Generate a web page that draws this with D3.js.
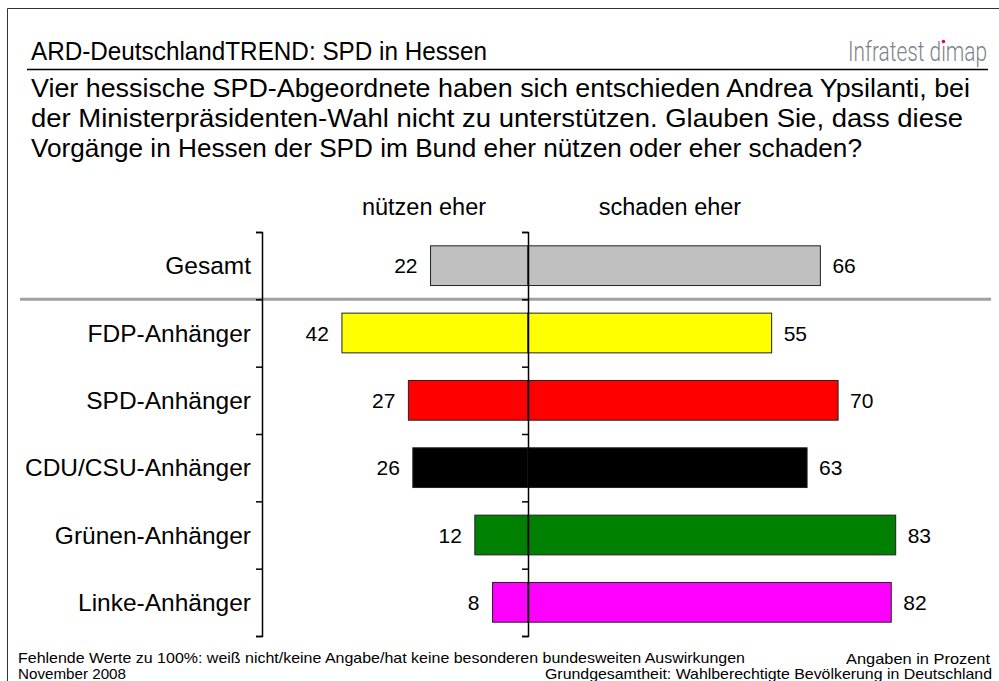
<!DOCTYPE html>
<html lang="de">
<head>
    <meta charset="UTF-8">
    <title>ARD-DeutschlandTREND: SPD in Hessen</title>
    <script src="https://d3js.org/d3.v7.min.js"></script>
    <style>
        body { margin: 0; background: #fff; }
        svg text { font-family: "Liberation Sans", Arial, sans-serif; fill: #000; }
    </style>
</head>
<body>
    <div id="chart"></div>

    <script>
        // Data
        const categories = ["Gesamt", "FDP-Anhänger", "SPD-Anhänger", "CDU/CSU-Anhänger", "Grünen-Anhänger", "Linke-Anhänger"];
        const nutzenEher = [22, 42, 27, 26, 12, 8];
        const schadenEher = [66, 55, 70, 63, 83, 82];
        const seriesNames = ["nützen eher", "schaden eher"];
        const questionLines = [
            "Vier hessische SPD-Abgeordnete haben sich entschieden Andrea Ypsilanti, bei",
            "der Ministerpräsidenten-Wahl nicht zu unterstützen. Glauben Sie, dass diese",
            "Vorgänge in Hessen der SPD im Bund eher nützen oder eher schaden?"
        ];
        const barColors = ["#c0c0c0", "#ffff00", "#ff0000", "#000000", "#008000", "#ff00ff"];

        const width = 999, height = 681;
        const svg = d3.select("#chart").append("svg").attr("width", width).attr("height", height);

        // frame
        svg.append("path")
            .attr("d", "M7.5,681V8.5H999")
            .attr("fill", "none")
            .attr("stroke", "#333")
            .attr("stroke-width", 1);

        // title
        svg.append("text")
            .attr("x", 31).attr("y", 60)
            .attr("font-size", 26)
            .attr("textLength", 456).attr("lengthAdjust", "spacingAndGlyphs")
            .text("ARD-DeutschlandTREND: SPD in Hessen");

        // logo: condensed look by stretching a smaller font vertically;
        // the dot over the second i is magenta, so use a dotless i and draw the dot
        const logoG = svg.append("g").attr("transform", "translate(848,61) scale(1,1.3)");
        const logo = logoG.append("text")
            .attr("x", 0).attr("y", 0)
            .attr("font-size", 20.7)
            .attr("textLength", 139).attr("lengthAdjust", "spacingAndGlyphs")
            .style("font-family", "Roboto, 'Liberation Sans Narrow', sans-serif")
            .style("font-weight", 300)
            .style("fill", "#7d8288")
            .text("Infratest d\u0131map");
        let dotX = 936;
        try {
            const ext = logo.node().getExtentOfChar(11);
            dotX = 848 + ext.x + ext.width / 2;
        } catch (e) {}
        svg.append("circle")
            .attr("cx", dotX).attr("cy", 41.5).attr("r", 1.8)
            .attr("fill", "#e2007a");

        svg.append("line")
            .attr("x1", 27).attr("x2", 988)
            .attr("y1", 69.5).attr("y2", 69.5)
            .attr("stroke", "#000").attr("stroke-width", 1.5);

        // question (widths as in the original layout)
        const questionWidths = [939, 932, 831];
        svg.append("g").selectAll("text")
            .data(questionLines)
            .join("text")
            .attr("x", 31)
            .attr("y", (d, i) => 97 + i * 30)
            .attr("font-size", 25)
            .attr("textLength", (d, i) => questionWidths[i])
            .attr("lengthAdjust", "spacingAndGlyphs")
            .text(d => d);

        // scales
        const x = d3.scaleLinear().domain([-50, 100]).range([528 - 221.5, 528 + 443]);
        const y = d3.scaleBand().domain(categories).range([232, 636]).paddingInner(0.41).paddingOuter(0.205);
        const yEdges = d3.scaleLinear().domain([0, categories.length]).range([232, 636]);
        const color = d3.scaleOrdinal().domain(categories).range(barColors);

        // column headers
        svg.append("g").selectAll("text")
            .data(seriesNames)
            .join("text")
            .attr("x", (d, i) => i === 0 ? 424 : 670)
            .attr("y", 215)
            .attr("text-anchor", "middle")
            .attr("font-size", 23.5)
            .text(d => d);

        // separator between Gesamt and groups
        svg.append("line")
            .attr("x1", 20).attr("x2", 991)
            .attr("y1", yEdges(1)).attr("y2", yEdges(1))
            .attr("stroke", "#a0a0a0").attr("stroke-width", 3);

        // bars
        const rows = categories.map((c, i) => ({ cat: c, n: nutzenEher[i], s: schadenEher[i] }));

        const bars = svg.append("g");
        bars.selectAll("rect.n")
            .data(rows)
            .join("rect")
            .attr("class", "n")
            .attr("x", d => x(-d.n))
            .attr("y", d => y(d.cat))
            .attr("width", d => x(0) - x(-d.n))
            .attr("height", y.bandwidth())
            .attr("fill", d => color(d.cat))
            .attr("stroke", "#222").attr("stroke-width", 1);

        bars.selectAll("rect.s")
            .data(rows)
            .join("rect")
            .attr("class", "s")
            .attr("x", x(0))
            .attr("y", d => y(d.cat))
            .attr("width", d => x(d.s) - x(0))
            .attr("height", y.bandwidth())
            .attr("fill", d => color(d.cat))
            .attr("stroke", "#222").attr("stroke-width", 1);

        // value labels
        const labels = svg.append("g").attr("font-size", 21);
        labels.selectAll("text.n")
            .data(rows)
            .join("text")
            .attr("class", "n")
            .attr("x", d => x(-d.n) - 13)
            .attr("y", d => y(d.cat) + y.bandwidth() / 2)
            .attr("dy", "0.36em")
            .attr("text-anchor", "end")
            .text(d => d.n);

        labels.selectAll("text.s")
            .data(rows)
            .join("text")
            .attr("class", "s")
            .attr("x", d => x(d.s) + 12)
            .attr("y", d => y(d.cat) + y.bandwidth() / 2)
            .attr("dy", "0.36em")
            .text(d => d.s);

        // category labels
        svg.append("g").selectAll("text")
            .data(categories)
            .join("text")
            .attr("x", 251)
            .attr("y", d => y(d) + y.bandwidth() / 2)
            .attr("dy", "0.36em")
            .attr("text-anchor", "end")
            .attr("font-size", 24.5)
            .text(d => d);

        // axes (ticks between the rows)
        const edgeAxis = d3.axisLeft(yEdges).ticks(categories.length).tickSize(6).tickSizeOuter(6).tickFormat("");

        svg.append("g")
            .attr("transform", "translate(262,0)")
            .call(edgeAxis)
            .call(g => g.selectAll("path, line").attr("stroke", "#000").attr("stroke-width", 1.5));

        svg.append("g")
            .attr("transform", `translate(${x(0)},0)`)
            .call(edgeAxis)
            .call(g => g.selectAll("path, line").attr("stroke", "#000").attr("stroke-width", 1.5));

        // footer
        const foot = svg.append("g").attr("font-size", 14.5);
        foot.append("text").attr("x", 18).attr("y", 663)
            .attr("textLength", 727).attr("lengthAdjust", "spacingAndGlyphs")
            .text("Fehlende Werte zu 100%: weiß nicht/keine Angabe/hat keine besonderen bundesweiten Auswirkungen");
        foot.append("text").attr("x", 18).attr("y", 679)
            .attr("textLength", 108).attr("lengthAdjust", "spacingAndGlyphs")
            .text("November 2008");
        foot.append("text").attr("x", 846).attr("y", 664)
            .attr("textLength", 144).attr("lengthAdjust", "spacingAndGlyphs")
            .text("Angaben in Prozent");
        foot.append("text").attr("x", 545).attr("y", 679)
            .attr("textLength", 447).attr("lengthAdjust", "spacingAndGlyphs")
            .text("Grundgesamtheit: Wahlberechtigte Bevölkerung in Deutschland");
    </script>
</body>
</html>
